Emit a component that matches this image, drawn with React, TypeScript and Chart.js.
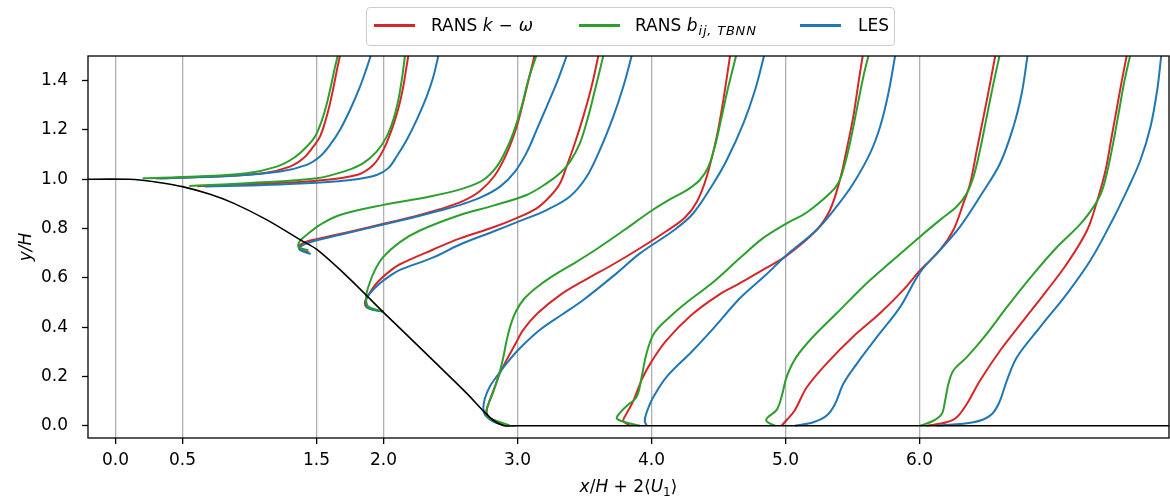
import React, { useEffect, useRef } from "react";
import { Chart, registerables } from "chart.js";

Chart.register(...registerables);

type Pt = [number, number];

// ---- axes / ticks ----
const xTickValues = [0, 0.5, 1.5, 2.0, 3.0, 4.0, 5.0, 6.0];
const yTickValues = [0, 0.2, 0.4, 0.6, 0.8, 1.0, 1.2, 1.4];
const xLimits = [-0.205, 7.862];
const yLimits = [-0.05, 1.5];
const yAxisTitle = "y/H";

// ---- series ----
const seriesColors = { komega: "#d62728", tbnn: "#2ca02c", les: "#1f77b4" };

// hill geometry (bottom wall)
const hillWall: Pt[] = [
  [-0.3, 1.0], [0.1, 1.0], [0.2, 0.996], [0.35, 0.985], [0.5, 0.97], [0.7, 0.94],
  [0.88, 0.903], [1.13, 0.835], [1.38, 0.754], [1.5, 0.716], [1.73, 0.605],
  [2.0, 0.46], [2.12, 0.397], [2.37, 0.265], [2.62, 0.132], [2.745, 0.06],
  [2.82, 0.022], [2.9, 0.0], [3.0, 0.0], [8.0, 0.0],
];

// station 1
const s1Komega: Pt[] = [
  [0.33, 1.004], [0.73, 1.011], [1.103, 1.024], [1.302, 1.051], [1.402, 1.085],
  [1.476, 1.132], [1.526, 1.173], [1.563, 1.23], [1.598, 1.3], [1.628, 1.376],
  [1.655, 1.45], [1.675, 1.5],
];
const s1Tbnn: Pt[] = [
  [0.203, 1.004], [0.606, 1.011], [0.979, 1.024], [1.203, 1.051], [1.327, 1.085],
  [1.427, 1.132], [1.489, 1.173], [1.537, 1.234], [1.574, 1.3], [1.607, 1.376],
  [1.636, 1.45], [1.658, 1.5],
];
const s1Les: Pt[] = [
  [0.3, 1.003], [0.854, 1.013], [1.228, 1.031], [1.427, 1.058], [1.526, 1.092],
  [1.601, 1.139], [1.675, 1.2], [1.75, 1.281], [1.825, 1.376], [1.874, 1.45],
  [1.904, 1.5],
];

// station 2
const s2Komega: Pt[] = [
  [0.61, 0.972], [1.0, 0.98], [1.501, 0.994], [1.8, 1.017], [1.924, 1.058],
  [1.999, 1.119], [2.061, 1.2], [2.108, 1.281], [2.143, 1.362], [2.168, 1.443],
  [2.185, 1.5],
];
const s2Tbnn: Pt[] = [
  [0.551, 0.973], [1.0, 0.985], [1.501, 1.004], [1.725, 1.035], [1.849, 1.065],
  [1.949, 1.112], [2.024, 1.173], [2.073, 1.241], [2.111, 1.322], [2.14, 1.416],
  [2.16, 1.5],
];
const s2Les: Pt[] = [
  [0.668, 0.97], [1.0, 0.975], [1.501, 0.986], [1.8, 1.0], [1.949, 1.017],
  [2.036, 1.045], [2.098, 1.092], [2.173, 1.159], [2.248, 1.241], [2.322, 1.335],
  [2.372, 1.416], [2.409, 1.5],
];

// station 3
const s3Komega: Pt[] = [
  [1.446, 0.702], [1.372, 0.717], [1.375, 0.732], [1.42, 0.746], [1.5, 0.757],
  [1.725, 0.784], [2.0, 0.819], [2.222, 0.848], [2.421, 0.878], [2.596, 0.912],
  [2.72, 0.952], [2.83, 1.015], [2.92, 1.105], [2.995, 1.215], [3.05, 1.33],
  [3.095, 1.43], [3.126, 1.5],
];
const s3Tbnn: Pt[] = [
  [1.44, 0.712], [1.37, 0.722], [1.364, 0.735], [1.38, 0.752], [1.426, 0.774],
  [1.526, 0.815], [1.675, 0.855], [2.0, 0.896], [2.347, 0.93], [2.596, 0.963],
  [2.745, 0.997], [2.845, 1.051], [2.915, 1.119], [2.969, 1.188], [3.031, 1.295],
  [3.081, 1.403], [3.14, 1.5],
];
const s3Les: Pt[] = [
  [1.458, 0.697], [1.377, 0.713], [1.385, 0.728], [1.476, 0.748], [1.725, 0.781],
  [2.0, 0.816], [2.222, 0.845], [2.421, 0.873], [2.596, 0.9], [2.73, 0.927],
  [2.87, 0.97], [2.98, 1.03], [3.07, 1.11], [3.143, 1.2], [3.218, 1.295],
  [3.292, 1.39], [3.367, 1.5],
];

// station 4
const s4Komega: Pt[] = [
  [1.999, 0.463], [1.874, 0.48], [1.862, 0.503], [1.887, 0.53], [1.949, 0.578],
  [2.036, 0.622], [2.123, 0.655], [2.372, 0.715], [2.571, 0.76], [2.82, 0.805],
  [2.993, 0.842], [3.143, 0.882], [3.242, 0.93], [3.317, 0.983], [3.366, 1.051],
  [3.428, 1.146], [3.491, 1.254], [3.553, 1.376], [3.603, 1.5],
];
const s4Tbnn: Pt[] = [
  [1.999, 0.463], [1.887, 0.483], [1.87, 0.517], [1.887, 0.564], [1.937, 0.632],
  [1.999, 0.685], [2.123, 0.745], [2.272, 0.792], [2.571, 0.855], [2.82, 0.893],
  [3.068, 0.936], [3.217, 0.983], [3.317, 1.024], [3.391, 1.07], [3.466, 1.146],
  [3.528, 1.254], [3.578, 1.362], [3.615, 1.443], [3.64, 1.5],
];
const s4Les: Pt[] = [
  [1.999, 0.463], [1.887, 0.477], [1.87, 0.508], [1.899, 0.537], [1.974, 0.578],
  [2.048, 0.608], [2.123, 0.632], [2.372, 0.683], [2.571, 0.735], [2.82, 0.788],
  [3.006, 0.828], [3.217, 0.875], [3.391, 0.93], [3.516, 1.01], [3.615, 1.119],
  [3.715, 1.254], [3.79, 1.376], [3.852, 1.5],
];

// station 5
const s5Komega: Pt[] = [
  [2.93, 0.0], [2.83, 0.02], [2.794, 0.03], [2.769, 0.057], [2.794, 0.104],
  [2.832, 0.159], [2.869, 0.213], [2.919, 0.267], [2.981, 0.328], [3.043, 0.389],
  [3.15, 0.456], [3.317, 0.53], [3.516, 0.595], [3.715, 0.655], [3.914, 0.72],
  [4.113, 0.79], [4.25, 0.845], [4.34, 0.91], [4.412, 1.01], [4.487, 1.173],
  [4.536, 1.321], [4.586, 1.5],
];
const s5Tbnn: Pt[] = [
  [2.944, 0.0], [2.857, 0.017], [2.781, 0.034], [2.765, 0.051], [2.781, 0.085],
  [2.82, 0.138], [2.865, 0.213], [2.895, 0.28], [2.92, 0.348], [2.95, 0.41],
  [2.99, 0.465], [3.05, 0.515], [3.14, 0.56], [3.27, 0.61], [3.44, 0.665],
  [3.6, 0.72], [3.8, 0.795], [4.0, 0.872], [4.15, 0.922], [4.27, 0.958],
  [4.362, 0.998], [4.424, 1.05], [4.474, 1.135], [4.524, 1.254], [4.574, 1.376],
  [4.631, 1.5],
];
const s5Les: Pt[] = [
  [2.919, 0.0], [2.819, 0.017], [2.757, 0.044], [2.745, 0.071], [2.757, 0.111],
  [2.794, 0.159], [2.844, 0.199], [2.919, 0.253], [3.018, 0.314], [3.168, 0.389],
  [3.33, 0.45], [3.491, 0.51], [3.739, 0.618], [3.914, 0.699], [4.17, 0.794],
  [4.312, 0.862], [4.462, 0.983], [4.562, 1.078], [4.686, 1.227], [4.773, 1.362],
  [4.84, 1.5],
];

// station 6
const s6Komega: Pt[] = [
  [3.84, 0.0], [3.79, 0.02], [3.815, 0.05], [3.864, 0.1], [3.93, 0.19],
  [4.0, 0.26], [4.11, 0.345], [4.3, 0.45], [4.5, 0.53], [4.66, 0.578],
  [4.85, 0.638], [5.009, 0.69], [5.232, 0.794], [5.332, 0.875], [5.406, 0.997],
  [5.456, 1.119], [5.506, 1.254], [5.544, 1.389], [5.576, 1.5],
];
const s6Tbnn: Pt[] = [
  [3.914, 0.0], [3.79, 0.016], [3.741, 0.03], [3.761, 0.05], [3.815, 0.08],
  [3.89, 0.118], [3.927, 0.199], [3.964, 0.295], [4.02, 0.375], [4.14, 0.443],
  [4.262, 0.5], [4.462, 0.583], [4.66, 0.68], [4.83, 0.76], [5.009, 0.821],
  [5.158, 0.865], [5.332, 0.943], [5.394, 0.985], [5.431, 1.038], [5.481, 1.146],
  [5.531, 1.281], [5.581, 1.416], [5.619, 1.5],
];
const s6Les: Pt[] = [
  [3.964, 0.0], [3.95, 0.02], [3.964, 0.054], [4.013, 0.115], [4.113, 0.198],
  [4.3, 0.3], [4.462, 0.395], [4.66, 0.517], [4.85, 0.61], [5.009, 0.693],
  [5.232, 0.794], [5.381, 0.889], [5.506, 0.983], [5.631, 1.105], [5.706, 1.213],
  [5.768, 1.349], [5.818, 1.5],
];

// station 7
const s7Komega: Pt[] = [
  [4.971, 0.0], [5.009, 0.023], [5.071, 0.064], [5.158, 0.155], [5.308, 0.253],
  [5.506, 0.362], [5.705, 0.456], [5.88, 0.551], [6.004, 0.63], [6.154, 0.713],
  [6.253, 0.794], [6.328, 0.903], [6.378, 0.983], [6.428, 1.119], [6.478, 1.254],
  [6.527, 1.389], [6.565, 1.5],
];
const s7Tbnn: Pt[] = [
  [4.922, 0.0], [4.872, 0.012], [4.855, 0.023], [4.872, 0.036], [4.934, 0.064],
  [4.971, 0.118], [5.009, 0.199], [5.083, 0.28], [5.208, 0.362], [5.382, 0.456],
  [5.606, 0.578], [5.805, 0.673], [6.004, 0.767], [6.154, 0.835], [6.278, 0.889],
  [6.353, 0.943], [6.403, 1.01], [6.452, 1.119], [6.502, 1.254], [6.552, 1.389],
  [6.597, 1.5],
];
const s7Les: Pt[] = [
  [5.071, 0.0], [5.208, 0.014], [5.308, 0.041], [5.37, 0.088], [5.432, 0.17],
  [5.532, 0.251], [5.681, 0.359], [5.855, 0.481], [6.004, 0.622], [6.154, 0.713],
  [6.303, 0.808], [6.452, 0.93], [6.602, 1.065], [6.701, 1.213], [6.763, 1.349],
  [6.806, 1.5],
];

// station 8
const s8Komega: Pt[] = [
  [6.054, 0.0], [6.203, 0.014], [6.278, 0.034], [6.353, 0.088], [6.452, 0.183],
  [6.602, 0.305], [6.776, 0.427], [6.95, 0.548], [7.1, 0.657], [7.25, 0.792],
  [7.33, 0.92], [7.39, 1.04], [7.43, 1.16], [7.47, 1.28], [7.51, 1.4], [7.546, 1.5],
];
const s8Tbnn: Pt[] = [
  [6.004, 0.0], [6.104, 0.02], [6.166, 0.047], [6.191, 0.101], [6.216, 0.17],
  [6.253, 0.224], [6.353, 0.278], [6.502, 0.373], [6.652, 0.481], [6.851, 0.616],
  [7.025, 0.724], [7.2, 0.818], [7.3, 0.889], [7.36, 0.95], [7.405, 1.04],
  [7.45, 1.16], [7.49, 1.28], [7.53, 1.4], [7.571, 1.5],
];
const s8Les: Pt[] = [
  [6.129, 0.0], [6.403, 0.014], [6.527, 0.041], [6.59, 0.088], [6.652, 0.183],
  [6.727, 0.278], [6.9, 0.4], [7.1, 0.535], [7.275, 0.67], [7.425, 0.818],
  [7.55, 0.956], [7.649, 1.078], [7.724, 1.213], [7.774, 1.362], [7.804, 1.5],
];

const komegaProfiles = [s1Komega, s2Komega, s3Komega, s4Komega, s5Komega, s6Komega, s7Komega, s8Komega];
const tbnnProfiles = [s1Tbnn, s2Tbnn, s3Tbnn, s4Tbnn, s5Tbnn, s6Tbnn, s7Tbnn, s8Tbnn];
const lesProfiles = [s1Les, s2Les, s3Les, s4Les, s5Les, s6Les, s7Les, s8Les];

const FONT = "'DejaVu Sans', 'Liberation Sans', sans-serif";
const FS = 17;

const toXY = (pts: Pt[]) => pts.map(([x, y]) => ({ x, y }));

// x axis title pieces: [text, style]
const xTitleParts: [string, "i" | "r" | "sub"][] = [
  ["x", "i"], ["/", "r"], ["H", "i"], [" + ", "r"], ["2", "r"],
  ["⟨", "r"], ["U", "i"], ["1", "sub"], ["⟩", "r"],
];

const framePlugin = {
  id: "frame",
  afterDatasetsDraw(chart: any) {
    const { ctx, chartArea } = chart;
    const { left, top, right, bottom } = chartArea;
    ctx.save();
    ctx.strokeStyle = "#000";
    ctx.lineWidth = 1.3;
    ctx.strokeRect(left, top, right - left, bottom - top);
    ctx.restore();
  },
};

const xTitlePlugin = {
  id: "xTitleMath",
  afterDraw(chart: any) {
    const { ctx, chartArea } = chart;
    const fontFor = (s: string) =>
      s === "i" ? `italic ${FS}px ${FONT}` : s === "sub" ? `${Math.round(FS * 0.7)}px ${FONT}` : `${FS}px ${FONT}`;
    ctx.save();
    ctx.fillStyle = "#000";
    ctx.textBaseline = "alphabetic";
    const widths = xTitleParts.map(([t, s]) => {
      ctx.font = fontFor(s);
      return ctx.measureText(t).width;
    });
    const total = widths.reduce((a, b) => a + b, 0);
    let x = (chartArea.left + chartArea.right) / 2 - total / 2;
    const baseline = 492;
    xTitleParts.forEach(([t, s], i) => {
      ctx.font = fontFor(s);
      ctx.fillText(t, x, s === "sub" ? baseline + 4 : baseline);
      x += widths[i];
    });
    ctx.restore();
  },
};

export default function App() {
  const canvasRef = useRef<HTMLCanvasElement | null>(null);

  useEffect(() => {
    if (!canvasRef.current) return;
    const profileSet = (list: Pt[][], color: string, order: number, name: string) =>
      list.map((pts, i) => ({
        label: `${name} ${i + 1}`,
        data: toXY(pts),
        showLine: true,
        borderColor: color,
        backgroundColor: color,
        borderWidth: 2,
        pointRadius: 0,
        tension: 0.35,
        fill: false,
        order,
      }));

    const datasets: any[] = [
      {
        label: "wall",
        data: toXY(hillWall),
        showLine: true,
        borderColor: "#000",
        backgroundColor: "#000",
        borderWidth: 1.6,
        pointRadius: 0,
        tension: 0.3,
        fill: false,
        order: 0,
      },
      ...profileSet(tbnnProfiles, seriesColors.tbnn, 1, "TBNN"),
      ...profileSet(lesProfiles, seriesColors.les, 2, "LES"),
      ...profileSet(komegaProfiles, seriesColors.komega, 3, "k-omega"),
    ];

    const chart = new Chart(canvasRef.current, {
      type: "scatter",
      data: { datasets },
      plugins: [framePlugin, xTitlePlugin],
      options: {
        animation: false,
        responsive: false,
        maintainAspectRatio: false,
        events: [],
        layout: { padding: { top: 56, right: 1, bottom: 0, left: 0 } },
        plugins: {
          legend: { display: false },
          tooltip: { enabled: false },
        },
        scales: {
          x: {
            type: "linear",
            min: xLimits[0],
            max: xLimits[1],
            afterBuildTicks: (scale: any) => {
              scale.ticks = xTickValues.map((v) => ({ value: v }));
            },
            afterFit: (scale: any) => {
              scale.height = 62;
            },
            ticks: {
              callback: (v: any) => Number(v).toFixed(1),
              font: { family: FONT, size: FS },
              color: "#000",
              padding: 6,
              maxRotation: 0,
              autoSkip: false,
            },
            grid: {
              color: "#b0b0b0",
              lineWidth: 1.3,
              tickColor: "#000",
              tickLength: 6,
              tickWidth: 1.3,
              drawOnChartArea: true,
            },
            border: { display: false },
            title: { display: false },
          },
          y: {
            type: "linear",
            min: yLimits[0],
            max: yLimits[1],
            afterBuildTicks: (scale: any) => {
              scale.ticks = yTickValues.map((v) => ({ value: v }));
            },
            afterFit: (scale: any) => {
              scale.width = 88;
            },
            ticks: {
              callback: (v: any) => Number(v).toFixed(1),
              font: { family: FONT, size: FS },
              color: "#000",
              padding: 14,
              autoSkip: false,
            },
            grid: {
              drawOnChartArea: false,
              tickColor: "#000",
              tickLength: 6,
              tickWidth: 1.3,
            },
            border: { display: false },
            title: {
              display: true,
              text: yAxisTitle,
              font: { family: FONT, size: FS, style: "italic" },
              color: "#000",
              padding: { top: 16, bottom: 0 },
            },
          },
        },
      },
    });
    return () => chart.destroy();
  }, []);

  const legendText: React.CSSProperties = {
    position: "absolute",
    top: 15,
    height: 20,
    lineHeight: "20px",
    fontFamily: FONT,
    fontSize: FS,
    color: "#000",
    whiteSpace: "nowrap",
  };
  const legendLine = (left: number, color: string): React.CSSProperties => ({
    position: "absolute",
    left,
    top: 24,
    width: 41,
    height: 3,
    background: color,
  });

  return (
    <div style={{ position: "fixed", left: 0, top: 0, width: 1170, height: 500, background: "#fff" }}>
      <canvas ref={canvasRef} width={1170} height={500} style={{ display: "block", width: 1170, height: 500 }} />
      <div
        style={{
          position: "absolute",
          left: 366,
          top: 7,
          width: 529,
          height: 39,
          boxSizing: "border-box",
          border: "1px solid #cccccc",
          borderRadius: 4,
          background: "rgba(255,255,255,0.8)",
        }}
      />
      <div style={legendLine(374, seriesColors.komega)} />
      <div style={{ ...legendText, left: 431 }}>
        RANS <i>k</i>
        <span style={{ margin: "0 6px" }}>−</span>
        <i style={{ letterSpacing: 1 }}>ω</i>
      </div>
      <div style={legendLine(579, seriesColors.tbnn)} />
      <div style={{ ...legendText, left: 635 }}>
        RANS <i>b</i>
        <i style={{ fontSize: 13, position: "relative", top: 4, letterSpacing: 0.8, marginLeft: 1 }}>ij, TBNN</i>
      </div>
      <div style={legendLine(800, seriesColors.les)} />
      <div style={{ ...legendText, left: 858 }}>LES</div>
    </div>
  );
}
